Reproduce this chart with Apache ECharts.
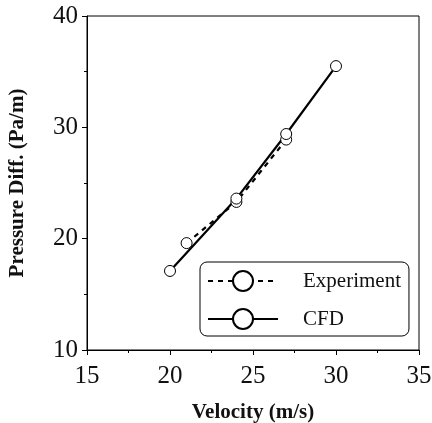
<!DOCTYPE html>
<html>
<head>
<meta charset="utf-8">
<script src="https://cdn.jsdelivr.net/npm/echarts@6/dist/echarts.min.js"></script>
<style>html,body{margin:0;padding:0;background:#fff;}#c{width:432px;height:423px;}</style>
</head>
<body>
<div id="c"></div>
<script>
const seriesNames = ['Experiment', 'CFD'];
const expX = [21, 24, 27];
const expY = [19.6, 23.3, 28.9];
const cfdX = [20, 24, 27, 30];
const cfdY = [17.1, 23.6, 29.4, 35.5];
const xTicks = [15, 20, 25, 30, 35];
const yTicks = [10, 20, 30, 40];

const font = 'Liberation Serif';
const chart = echarts.init(document.getElementById('c'), null, {renderer: 'canvas'});
const pairs = (xs, ys) => xs.map((x, i) => [x, ys[i]]);
chart.setOption({
  animation: false,
  backgroundColor: '#fff',
  grid: {left: 87, right: 13, top: 16, bottom: 73, show: true, borderColor: '#000', borderWidth: 1,
         containLabel: false, outerBoundsMode: 'none'},
  xAxis: {
    type: 'value', min: xTicks[0], max: xTicks[xTicks.length - 1], interval: 5,
    name: 'Velocity (m/s)', nameLocation: 'middle', nameGap: 52,
    nameTextStyle: {fontFamily: font, fontWeight: 'bold', fontSize: 21, color: '#111'},
    axisLine: {lineStyle: {color: '#000', width: 1}},
    axisTick: {length: 5, lineStyle: {color: '#000'}},
    minorTick: {show: true, splitNumber: 2, length: 3, lineStyle: {color: '#000'}},
    splitLine: {show: false},
    axisLabel: {fontFamily: font, fontSize: 25, color: '#111', margin: 14}
  },
  yAxis: {
    type: 'value', min: yTicks[0], max: yTicks[yTicks.length - 1], interval: 10,
    name: 'Pressure Diff. (Pa/m)', nameLocation: 'middle', nameGap: 59,
    nameTextStyle: {fontFamily: font, fontWeight: 'bold', fontSize: 21, color: '#111'},
    axisLine: {lineStyle: {color: '#000', width: 1}},
    axisTick: {length: 5, lineStyle: {color: '#000'}},
    minorTick: {show: true, splitNumber: 2, length: 3, lineStyle: {color: '#000'}},
    splitLine: {show: false},
    axisLabel: {fontFamily: font, fontSize: 25, color: '#111', margin: 9}
  },
  legend: {
    left: 200, top: 262, orient: 'vertical',
    data: seriesNames,
    itemWidth: 70, itemHeight: 25, itemGap: 16,
    padding: [8, 8, 6, 7],
    borderColor: '#000', borderWidth: 1, borderRadius: 7,
    backgroundColor: '#fff',
    textStyle: {fontFamily: font, fontSize: 21, color: '#111', padding: [0, 0, 0, 20]}
  },
  series: [
    {
      name: seriesNames[0], type: 'line', data: pairs(expX, expY),
      symbol: 'circle', symbolSize: 11,
      lineStyle: {color: '#000', width: 2.2, type: [5, 5]},
      itemStyle: {color: '#fff', borderColor: '#000', borderWidth: 1}
    },
    {
      name: seriesNames[1], type: 'line', data: pairs(cfdX, cfdY),
      symbol: 'circle', symbolSize: 11,
      lineStyle: {color: '#000', width: 2.2},
      itemStyle: {color: '#fff', borderColor: '#000', borderWidth: 1}
    }
  ]
});
</script>
</body>
</html>
